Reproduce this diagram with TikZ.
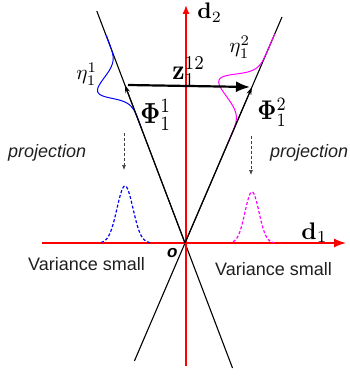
\documentclass[tikz,border=0pt]{standalone}
\usepackage[no-math]{fontspec}
\usepackage{amsmath}
\newfontfamily\arialfont{Liberation Sans}
\usetikzlibrary{arrows.meta}
\definecolor{mag}{RGB}{255,0,255}
\definecolor{blu}{RGB}{0,0,255}
\begin{document}
\begin{tikzpicture}[x=1pt,y=-1pt,
  axis/.style={red, line width=1.4pt},
  ray/.style={black, line width=1.1pt},
  lbl/.style={inner sep=0pt, anchor=base west},
  sanslbl/.style={font=\arialfont\fontsize{18}{20}\selectfont, text=black!88, inner sep=0pt, anchor=base west},
  projlbl/.style={sanslbl, font=\arialfont\itshape\fontsize{18}{20}\selectfont},
  dasharr/.style={densely dashed, black!75, line width=0.7pt, -{Latex[length=5pt,width=4pt]}},
  gausscurve/.style={line width=1pt},
  projcurve/.style={line width=1.2pt, dash pattern=on 3pt off 2pt},
]
\useasboundingbox (0,0) rectangle (349,377);
% points
\coordinate (O) at (185,243);
\coordinate (L1a) at (96.8,11);
\coordinate (L1b) at (232.5,368);
\coordinate (L2a) at (282,17);
\coordinate (L2b) at (134.4,361);
\coordinate (X0) at (42,243);
\coordinate (X1) at (346,243);
\coordinate (Y0) at (186,366);
\coordinate (Y1) at (186,5);
\coordinate (A1) at (124.9,85);
\coordinate (A2) at (252,87);
\coordinate (Z0) at (128,85);
\coordinate (Z1) at (250,87);
\coordinate (P1s) at (124,133);
\coordinate (P1e) at (124,170);
\coordinate (P2s) at (251,136);
\coordinate (P2e) at (251,175);
% black rays
\draw[ray] (L1a) -- (L1b);
\draw[ray] (L2a) -- (L2b);
% axes
\draw[axis, -{Latex[length=12pt,width=9pt]}] (X0) -- (X1);
\draw[axis, -{Latex[length=9pt,width=7pt]}] (Y0) -- (Y1);
% gaussians along rays
\draw[blu, gausscurve] plot[domain=-50:50, samples=120, smooth]
  ({124 - 0.355*\x - 26.2*exp(-((\x)^2)/242)}, {82 - 0.935*\x + 10*exp(-((\x)^2)/242)});
\draw[mag, gausscurve] plot[domain=-55:64, samples=120, smooth]
  ({249.4 + 0.394*\x - 30.3*exp(-((\x)^2)/288)}, {93 - 0.919*\x - 13*exp(-((\x)^2)/288)});
% projected gaussians
\draw[blu, projcurve] plot[domain=-24:26, samples=80, smooth]
  ({125+\x}, {243 - 57*exp(-((\x)^2)/128)});
\draw[mag, projcurve] plot[domain=-19:21, samples=80, smooth]
  ({252+\x}, {243 - 51*exp(-((\x)^2)/98)});
% vectors
\draw[ray, -{Stealth[length=8pt,width=5pt]}] (O) -- (A1);
\draw[ray, -{Stealth[length=8pt,width=5pt]}] (O) -- (A2);
\draw[black, line width=2.2pt, -{Latex[length=14pt,width=11pt]}] (Z0) -- (Z1);
% projection arrows
\draw[dasharr] (P1s) -- (P1e);
\draw[dasharr] (P2s) -- (P2e);
% labels
\node[lbl, scale=2.25] (d2) at (197,19) {$\mathbf{d}_2$};
\node[lbl, scale=2.4] (d1) at (301,239) {$\mathbf{d}_1$};
\node[lbl, xscale=2.4, yscale=2.9] (phi1) at (140,123) {$\mathbf{\Phi}_1^1$};
\node[lbl, xscale=2.3, yscale=2.7] (phi2) at (257,120) {$\mathbf{\Phi}_1^2$};
\node[lbl, xscale=2.4, yscale=2.8] (z) at (172,80) {$\mathbf{z}_1^{12}$};
\node[lbl, scale=2.1] (eta1) at (76,80) {$\eta_1^1$};
\node[lbl, scale=2.1] (eta2) at (229,53) {$\eta_1^2$};
\node[projlbl] (proj1) at (8,157) {projection};
\node[projlbl] (proj2) at (270,157) {projection};
\node[sanslbl] (var1) at (28,270) {Variance small};
\node[sanslbl] (var2) at (215,275) {Variance small};
\node[lbl, font=\arialfont\bfseries\itshape\fontsize{17}{19}\selectfont] (o) at (167,257) {o};
\end{tikzpicture}
\end{document}
